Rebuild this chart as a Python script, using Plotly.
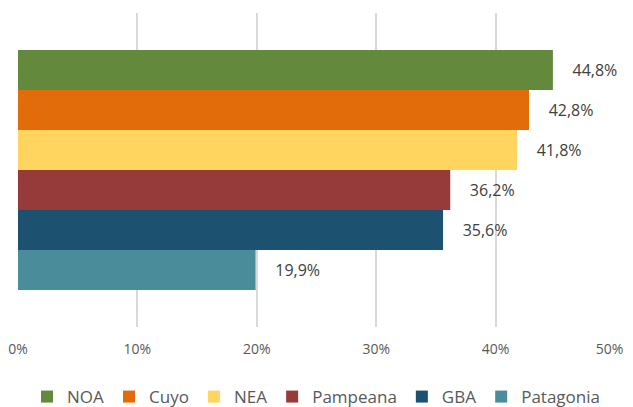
import plotly.graph_objects as go

regiones = ["NOA", "Cuyo", "NEA", "Pampeana", "GBA", "Patagonia"]
valores = [0.448, 0.428, 0.418, 0.362, 0.356, 0.199]
colores = ["#62893C", "#E36C0A", "#FFD560", "#973A3A", "#1C5270", "#4A8C9A"]
tick_vals = [0, 0.1, 0.2, 0.3, 0.4, 0.5]
tick_labels = ["0%", "10%", "20%", "30%", "40%", "50%   "]

fig = go.Figure()

# una traza por región para que salgan en la leyenda
for reg, val, col in zip(regiones, valores, colores):
    fig.add_trace(go.Bar(
        x=[val], y=[""], name=reg, orientation="h",
        marker=dict(color=col, line=dict(width=0)),
        text=[val], texttemplate="    %{x:.1%}", textposition="outside",
        textfont=dict(size=16, color="#404040"),
        constraintext="none",
        cliponaxis=False,
    ))

# la página tiene 8px de margen en el body, se compensa en los márgenes
fig.update_layout(
    barmode="group",
    bargap=0.236,
    bargroupgap=0,
    width=633, height=407,
    margin=dict(l=10, r=26, t=5, b=88, autoexpand=False),
    plot_bgcolor="white",
    paper_bgcolor="white",
    separators=",.",
    font=dict(family="Open Sans, Noto Sans, sans-serif", color="#595959"),
    legend=dict(orientation="h", x=0.5, xanchor="center", y=-0.223, yanchor="middle",
                font=dict(size=17, color="#595959"), itemwidth=30, tracegroupgap=0),
    showlegend=True,
)
fig.update_xaxes(range=[0, 0.5], tickvals=tick_vals, ticktext=tick_labels, showgrid=True,
                 gridcolor="#D9D9D9", gridwidth=2, zeroline=False, automargin=False,
                 tickfont=dict(size=14, color="#595959"), ticklabelstandoff=12)
fig.update_yaxes(autorange="reversed", showticklabels=False, showgrid=False,
                 zeroline=False, automargin=False)

fig.write_html("out.html")
